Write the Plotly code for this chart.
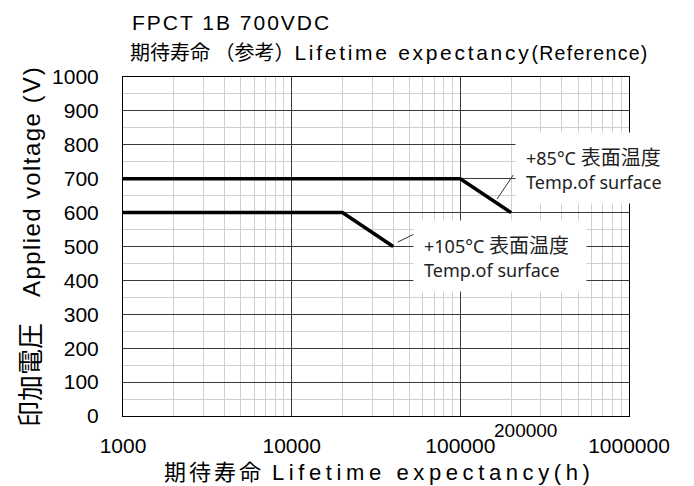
import plotly.graph_objects as go

# Data
life_85 = [1000, 100000, 200000]
volt_85 = [700, 700, 600]
life_105 = [1000, 20000, 40000]
volt_105 = [600, 600, 500]

# leader lines for the labels
leader85_x = [165000, 206000]
leader85_y = [640, 711]
leader105_x = [42600, 54400]
leader105_y = [513, 539]

x_ticks = [1000, 10000, 100000, 1000000]
x_ticklabels = ["1000", "10000", "100000", "1000000"]
y_ticks = list(range(0, 1001, 100))

FONT_MAIN = "Liberation Sans, Arial, Noto Sans CJK JP"
FONT_CJK = "Noto Sans CJK JP"
FONT_LBL = "Noto Sans, Noto Sans CJK JP"


def sp(text, size=None, ls=None, family=None):
    st = []
    if size:
        st.append(f"font-size:{size}px")
    if ls is not None:
        st.append(f"letter-spacing:{ls}px")
    if family:
        st.append(f"font-family:{family}")
    return f"<span style='{';'.join(st)}'>{text}</span>"


label_85 = sp("+85°C ", 18) + sp("表面温度", 20, family=FONT_CJK) + "<br>" + sp("Temp.of surface", 18)
label_105 = sp("+105°C ", 18) + sp("表面温度", 20, family=FONT_CJK) + "<br>" + sp("Temp.of surface", 18)

fig = go.Figure()
fig.add_trace(go.Scatter(x=life_85, y=volt_85, mode="lines",
                         line=dict(color="black", width=3.5), showlegend=False))
fig.add_trace(go.Scatter(x=life_105, y=volt_105, mode="lines",
                         line=dict(color="black", width=3.5), showlegend=False))
fig.add_trace(go.Scatter(x=leader85_x, y=leader85_y, mode="lines",
                         line=dict(color="#333", width=1), showlegend=False))
fig.add_trace(go.Scatter(x=leader105_x, y=leader105_y, mode="lines",
                         line=dict(color="#333", width=1), showlegend=False))

fig.update_layout(
    width=694, height=486,
    margin=dict(l=123, r=65, t=77, b=70),
    paper_bgcolor="white", plot_bgcolor="white",
    font=dict(family=FONT_MAIN, color="black", size=21),
    xaxis=dict(type="log", range=[3, 6], tickvals=x_ticks, ticktext=x_ticklabels,
               showgrid=True, gridcolor="#3a3a3a", gridwidth=1,
               minor=dict(dtick="D1", showgrid=True, gridcolor="#cfcfcf", gridwidth=1, ticks=""),
               showline=True, linecolor="black", linewidth=1, mirror=True,
               ticks="", ticklabelstandoff=11, zeroline=False, automargin=False,
               tickfont=dict(size=21)),
    yaxis=dict(range=[0, 1000], tickvals=y_ticks,
               showgrid=True, gridcolor="#3a3a3a", gridwidth=1,
               minor=dict(dtick=50, showgrid=True, gridcolor="#cfcfcf", gridwidth=1, ticks=""),
               showline=True, linecolor="black", linewidth=1, mirror=True,
               ticks="", ticklabelstandoff=19, zeroline=False, automargin=False,
               tickfont=dict(size=21)),
)

ann = []
# Titles
ann.append(dict(text=sp("FPCT 1B 700VDC", 21, 2), xref="paper", yref="paper",
                x=(130 - 123) / 506, y=(416 - 22.5) / 339, xanchor="left", yanchor="middle",
                showarrow=False, font=dict(size=21, family=FONT_MAIN)))
ann.append(dict(text=sp("期待寿命 （参考）", 20, family=FONT_CJK)
                + sp("Lifetime expectancy", 21, 2.7)
                + sp("(Reference)", 19.5, 1.3),
                xref="paper", yref="paper",
                x=(128 - 123) / 506, y=(416 - 52) / 339, xanchor="left", yanchor="middle",
                showarrow=False, font=dict(size=21, family=FONT_MAIN)))
# Axis titles
ann.append(dict(text=sp("期待寿命 ", 22, 3, family=FONT_CJK)
                + sp("Lifetime expectancy(h)", 22, 4.6),
                xref="paper", yref="paper",
                x=(163 - 123) / 506, y=(416 - 470) / 339, xanchor="left", yanchor="middle",
                showarrow=False, borderpad=0, font=dict(size=22, family=FONT_MAIN)))
ann.append(dict(text=sp("印加電圧　", 26, family=FONT_CJK)
                + sp("Applied voltage", 24, 1.4) + sp(" (V)", 24, 2),
                xref="paper", yref="paper",
                x=(28 - 123) / 506, y=(416 - 246) / 339, xanchor="center", yanchor="middle",
                textangle=-90, showarrow=False, font=dict(size=24, family=FONT_MAIN)))
# extra tick-like label
ann.append(dict(text="200000", xref="paper", yref="paper",
                x=(525 - 123) / 506, y=(416 - 430) / 339, xanchor="center", yanchor="middle",
                showarrow=False, font=dict(size=19, family=FONT_MAIN)))
# Curve labels (white boxes)
ann.append(dict(text=label_85, xref="paper", yref="paper",
                x=(515 - 123) / 506, y=(416 - 168) / 339, xanchor="left", yanchor="middle",
                align="left", showarrow=False, bgcolor="white", borderpad=10,
                width=136, height=50, valign="middle",
                font=dict(size=19, family=FONT_LBL, color="#222")))
ann.append(dict(text=label_105, xref="paper", yref="paper",
                x=(413 - 123) / 506, y=(416 - 255.5) / 339, xanchor="left", yanchor="middle",
                align="left", showarrow=False, bgcolor="white", borderpad=10,
                width=152, height=50, valign="middle",
                font=dict(size=19, family=FONT_LBL, color="#222")))
fig.update_layout(annotations=ann)

fig.write_html("out.html", config={"displayModeBar": False},
               post_script="document.body.style.margin='0';")
